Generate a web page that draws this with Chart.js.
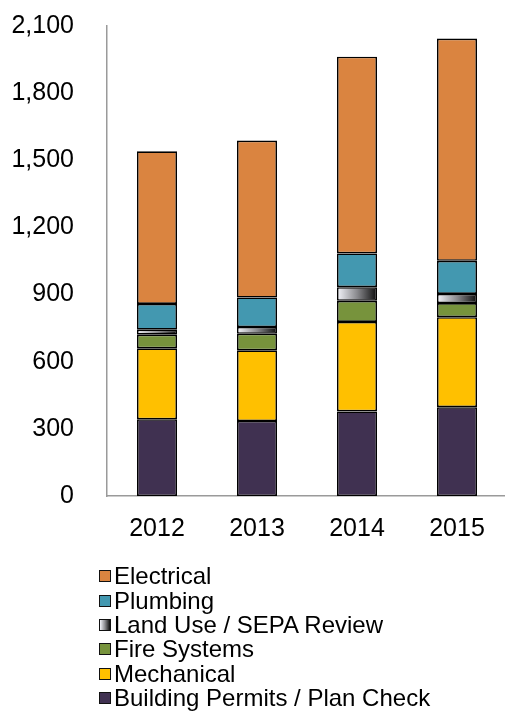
<!DOCTYPE html>
<html>
<head>
<meta charset="utf-8">
<script src="https://cdn.jsdelivr.net/npm/chart.js@4"></script>
<style>
  html, body { margin: 0; padding: 0; background: #fff; overflow: hidden; }
  #wrap { position: relative; width: 507px; height: 717px; overflow: hidden; }
  #chart { position: absolute; left: 0; top: -14px; }
  #legend { position: absolute; left: 99px; top: 564px; font-family: "Liberation Sans", Arial, sans-serif; font-size: 24px; color: #000; }
  .item { display: flex; align-items: center; height: 24.4px; white-space: nowrap; }
  .box { width: 10px; height: 10px; border: 1px solid #111; margin-right: 3px; }
</style>
</head>
<body>
<div id="wrap">
  <canvas id="chart" width="507" height="717"></canvas>
  <div id="legend"></div>
</div>
<script>
const years = ['2012', '2013', '2014', '2015'];

// permits issued per division, bottom of the stack first
const buildingPermits = [343, 335, 378, 397];
const mechanical = [317, 316, 400, 402];
const fireSystems = [61, 74, 94, 63];
const landUse = [22, 30, 61, 41];
const plumbing = [115, 132, 151, 148];
const electrical = [682, 701, 879, 993];

const yTicks = [0, 300, 600, 900, 1200, 1500, 1800, 2100];

const BAR_PCT = 0.4;

// white-to-black shading across each Land Use segment
function landUseFill(c) {
  const chart = c.chart;
  const xs = chart.scales && chart.scales.x;
  if (!xs || c.dataIndex === undefined || !chart.chartArea) return '#808080';
  const cx = xs.getPixelForValue(c.dataIndex);
  const half = (xs.width / years.length) * BAR_PCT / 2;
  const g = chart.ctx.createLinearGradient(cx - half, 0, cx + half, 0);
  g.addColorStop(0, '#f4f5fb');
  g.addColorStop(0.5, '#8a8a8e');
  g.addColorStop(1, '#0c0c0c');
  return g;
}

const series = [
  { label: 'Building Permits / Plan Check', data: buildingPermits, color: '#403151' },
  { label: 'Mechanical', data: mechanical, color: '#FFC000' },
  { label: 'Fire Systems', data: fireSystems, color: '#77933C' },
  { label: 'Land Use / SEPA Review', data: landUse, color: landUseFill, css: 'linear-gradient(to right, #f4f5fb, #8a8a8e, #0c0c0c)' },
  { label: 'Plumbing', data: plumbing, color: '#4398B0' },
  { label: 'Electrical', data: electrical, color: '#DA8440' }
];

const tickFont = { family: '"Liberation Sans", Arial, sans-serif', size: 25 };

new Chart(document.getElementById('chart'), {
  type: 'bar',
  data: {
    labels: years,
    datasets: series.map(s => ({
      label: s.label,
      data: s.data,
      backgroundColor: s.color,
      borderColor: '#000',
      borderWidth: 1.6,
      borderSkipped: false,
      barPercentage: BAR_PCT,
      categoryPercentage: 1
    }))
  },
  options: {
    responsive: false,
    animation: false,
    layout: { padding: { top: 3, right: 0, bottom: 149, left: 0 } },
    plugins: { legend: { display: false }, tooltip: { enabled: false } },
    scales: {
      x: {
        stacked: true,
        grid: { display: false },
        border: { display: true, color: '#9a9a9a', width: 1.5 },
        ticks: { color: '#000', font: tickFont, padding: 10 }
      },
      y: {
        stacked: true,
        min: 0,
        max: 2100,
        afterBuildTicks: s => { s.ticks = yTicks.map(v => ({ value: v })); },
        afterFit: s => { s.width = 107; },
        grid: { display: false },
        border: { display: true, color: '#9a9a9a', width: 1.5 },
        ticks: {
          color: '#000',
          font: tickFont,
          padding: 25,
          callback: v => v.toLocaleString('en-US')
        }
      }
    }
  }
});

// legend list, top entry is the top of the stack
const legend = document.getElementById('legend');
series.slice().reverse().forEach(s => {
  const row = document.createElement('div');
  row.className = 'item';
  const box = document.createElement('span');
  box.className = 'box';
  box.style.background = s.css || s.color;
  const txt = document.createElement('span');
  txt.textContent = s.label;
  row.appendChild(box);
  row.appendChild(txt);
  legend.appendChild(row);
});
</script>
</body>
</html>
